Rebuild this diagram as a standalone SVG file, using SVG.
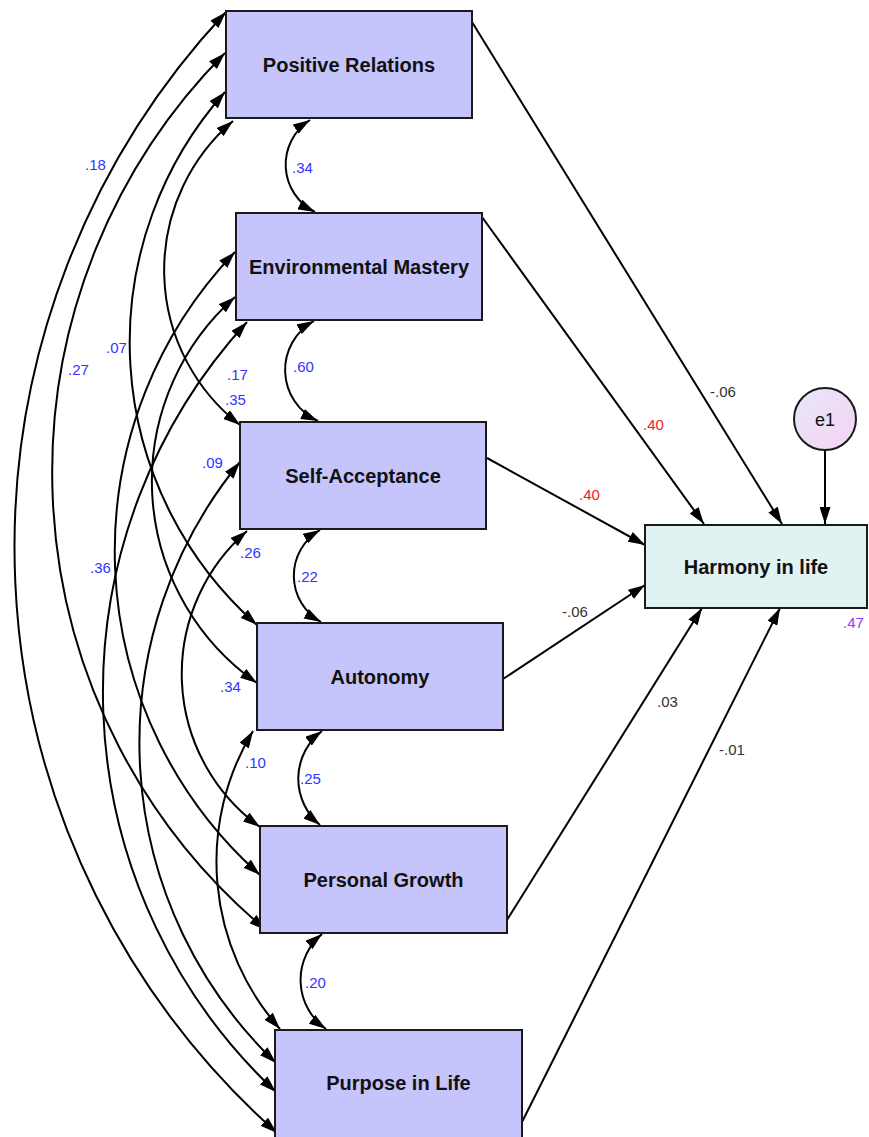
<svg xmlns="http://www.w3.org/2000/svg" width="869" height="1137" viewBox="0 0 869 1137">
<style>
.box{fill:#c5c5fb;stroke:#1a1a1a;stroke-width:2}
.dep{fill:#e0f2f2;stroke:#1a1a1a;stroke-width:2}
.nl{font-family:"Liberation Sans",Arial,sans-serif;font-weight:bold;font-size:20px;fill:#111;text-anchor:middle}
.cov{fill:none;stroke:#000;stroke-width:2;marker-start:url(#ah);marker-end:url(#ah)}
.reg{fill:none;stroke:#000;stroke-width:2;marker-end:url(#ah)}
.lb{font-family:"Liberation Sans",Arial,sans-serif;font-size:15px;fill:#3333ff}
.lr{font-family:"Liberation Sans",Arial,sans-serif;font-size:15px;fill:#f02020}
.lk{font-family:"Liberation Sans",Arial,sans-serif;font-size:15px;fill:#333}
.lp{font-family:"Liberation Sans",Arial,sans-serif;font-size:15px;fill:#9933ff}
</style>
<defs>
<marker id="ah" viewBox="0 0 17 11" refX="17" refY="5.5" markerWidth="17" markerHeight="11" markerUnits="userSpaceOnUse" orient="auto-start-reverse">
<path d="M0,0 L17,5.5 L0,11 z" fill="#000"/>
</marker>
<linearGradient id="eg" x1="0" y1="0" x2="1" y2="1">
<stop offset="0" stop-color="#e6e8fb"/>
<stop offset="1" stop-color="#f5d3f3"/>
</linearGradient>
</defs>
<rect x="0" y="0" width="869" height="1137" fill="#fff"/>
<g id="connectors">
<path class="cov" d="M226,12 A784,784 0 0 0 277,1133"/>
<path class="cov" d="M225,53 A596,596 0 0 0 266,930"/>
<path class="cov" d="M225,92 A377,377 0 0 0 257,625"/>
<path class="cov" d="M233,121 A196,196 0 0 0 240,425"/>
<path class="cov" d="M235,297 A246,246 0 0 0 257,683"/>
<path class="cov" d="M235,252 A433,433 0 0 0 260,875"/>
<path class="cov" d="M247,322 A548,548 0 0 0 276,1092"/>
<path class="cov" d="M240,462 A443,443 0 0 0 276,1063"/>
<path class="cov" d="M247,531 A189,189 0 0 0 260,827"/>
<path class="cov" d="M253,731 A252,252 0 0 0 280,1029"/>
<path class="cov" d="M310,120 A53,53 0 0 0 315,212"/>
<path class="cov" d="M314,321 A56,56 0 0 0 318,421"/>
<path class="cov" d="M320,530 A53,53 0 0 0 321,622"/>
<path class="cov" d="M322,731 A60,60 0 0 0 320,825"/>
<path class="cov" d="M322,934 A60,60 0 0 0 326,1029"/>
<path class="reg" d="M472,22 L782,524"/>
<path class="reg" d="M482,217 L704,524"/>
<path class="reg" d="M487,458 L645,545"/>
<path class="reg" d="M503,679 L645,585"/>
<path class="reg" d="M507,920 L702,608"/>
<path class="reg" d="M522,1122 L780,608"/>
<path class="reg" d="M825,450 L825,524"/>
<text class="lb" x="85" y="170">.18</text>
<text class="lb" x="68" y="375">.27</text>
<text class="lb" x="106" y="353">.07</text>
<text class="lb" x="90" y="573">.36</text>
<text class="lb" x="227" y="380">.17</text>
<text class="lb" x="225" y="405">.35</text>
<text class="lb" x="202" y="468">.09</text>
<text class="lb" x="240" y="558">.26</text>
<text class="lb" x="220" y="692">.34</text>
<text class="lb" x="245" y="768">.10</text>
<text class="lb" x="292" y="173">.34</text>
<text class="lb" x="293" y="372">.60</text>
<text class="lb" x="297" y="582">.22</text>
<text class="lb" x="300" y="784">.25</text>
<text class="lb" x="305" y="988">.20</text>
<text class="lk" x="710" y="397">-.06</text>
<text class="lr" x="643" y="430">.40</text>
<text class="lr" x="579" y="500">.40</text>
<text class="lk" x="562" y="617">-.06</text>
<text class="lk" x="657" y="707">.03</text>
<text class="lk" x="719" y="755">-.01</text>
<text class="lp" x="843" y="628">.47</text>
</g>
<g id="node-positive-relations">
<rect class="box" x="226" y="11" width="246" height="107"/>
<text class="nl" x="349" y="72">Positive Relations</text>
</g>
<g id="node-environmental-mastery">
<rect class="box" x="236" y="213" width="246" height="107"/>
<text class="nl" x="359" y="274">Environmental Mastery</text>
</g>
<g id="node-self-acceptance">
<rect class="box" x="240" y="422" width="246" height="107"/>
<text class="nl" x="363" y="483">Self-Acceptance</text>
</g>
<g id="node-autonomy">
<rect class="box" x="257" y="623" width="246" height="107"/>
<text class="nl" x="380" y="684">Autonomy</text>
</g>
<g id="node-personal-growth">
<rect class="box" x="260" y="826" width="247" height="107"/>
<text class="nl" x="383.5" y="887">Personal Growth</text>
</g>
<g id="node-purpose-in-life">
<rect class="box" x="275" y="1030" width="247" height="108"/>
<text class="nl" x="398.5" y="1090">Purpose in Life</text>
</g>
<g id="node-harmony-in-life">
<rect class="dep" x="645" y="525" width="222" height="83"/>
<text class="nl" x="756" y="574">Harmony in life</text>
</g>
<g id="node-e1">
<circle cx="825" cy="419" r="31" fill="url(#eg)" stroke="#1a1a1a" stroke-width="2"/>
<text x="825" y="426" font-family="Liberation Sans, Arial, sans-serif" font-size="18" fill="#111" text-anchor="middle">e1</text>
</g>
</svg>
